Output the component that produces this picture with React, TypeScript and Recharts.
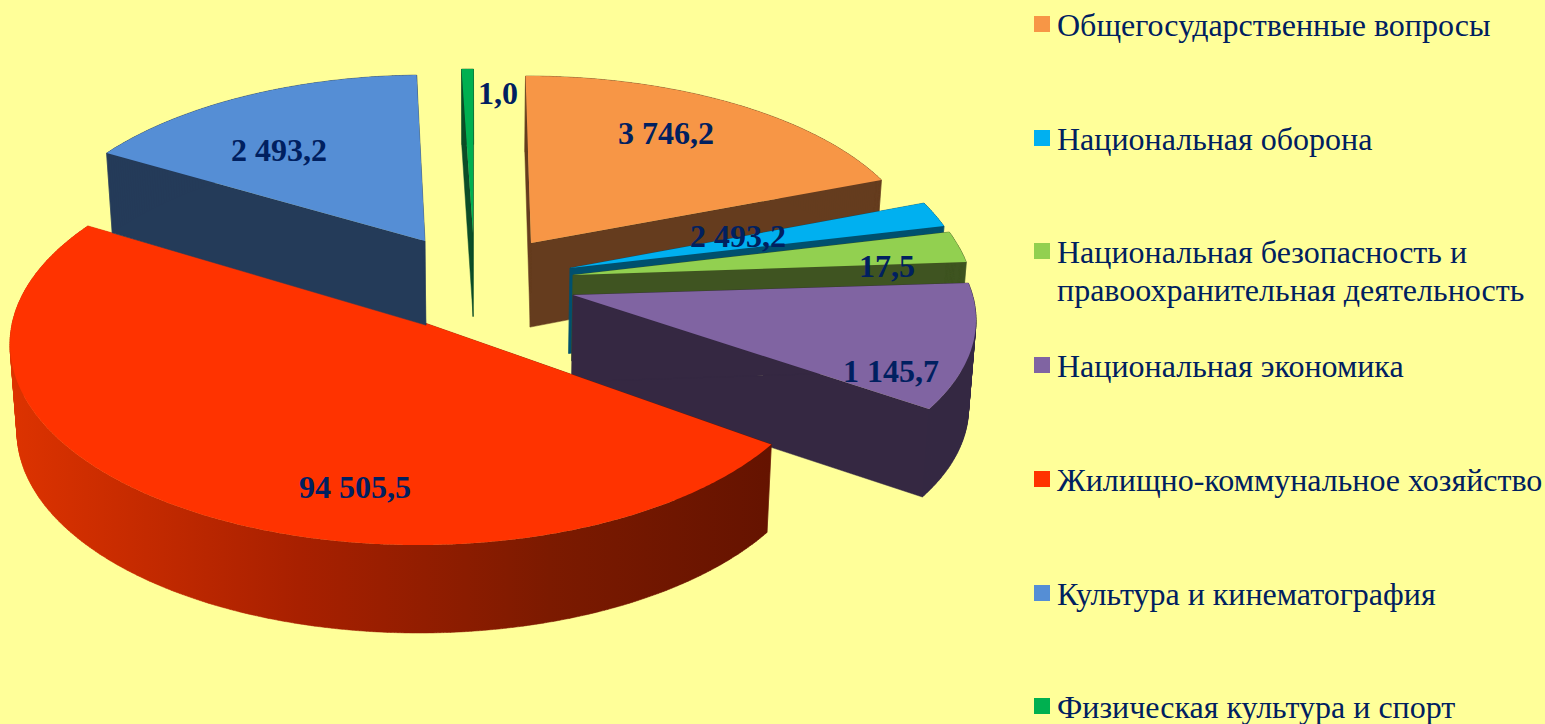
import { PieChart, Pie, Legend } from "recharts";

const categories = [
    "Общегосударственные вопросы",
    "Национальная оборона",
    "Национальная безопасность и правоохранительная деятельность",
    "Национальная экономика",
    "Жилищно-коммунальное хозяйство",
    "Культура и кинематография",
    "Физическая культура и спорт",
];
// размер секторов на картинке (в градусах), подписи на слайде им не пропорциональны
const sliceShares = [64, 6, 8, 42, 186, 52.5, 1.5];
const valueLabels = ["3 746,2", "2 493,2", "17,5", "1 145,7", "94 505,5", "2 493,2", "1,0"];
const topColors = ["#f79646", "#00b0f0", "#92d050", "#8064a2", "#ff3300", "#558ed5", "#00b050"];
const wallColors = ["#653c1e", "#00506e", "#3f5421", "#352842", "url(#redWall)", "#243b59", "#0b4d27"];

// выносы секторов и перспектива: центр эллипса, радиусы, вершина сектора
const frames = [
    { ex: 525.5, ey: 261, rx: 396, ry: 185, ax: 531, ay: 243 },
    { ex: 484.5, ey: 307.8, rx: 489, ry: 239, ax: 570, ay: 268 },
    { ex: 533, ey: 308.6, rx: 443, ry: 224, ax: 573, ay: 275 },
    { ex: 626, ey: 320, rx: 350, ry: 178, ax: 573, ay: 295 },
    { ex: 418, ey: 344, rx: 408, ry: 201, ax: 425, ay: 323 },
    { ex: 427, ey: 264.5, rx: 396, ry: 189.5, ax: 425, ay: 241 },
    { ex: 473.5, ey: 249, rx: 460, ry: 180, ax: 473, ay: 233 },
];
const labelSpots = [
    { x: 666, y: 133 },
    { x: 738, y: 236 },
    { x: 887, y: 266 },
    { x: 891, y: 371 },
    { x: 355, y: 487 },
    { x: 279, y: 150 },
    { x: 498, y: 93 },
];

const chartData = categories.map((name, i) => ({ name, value: sliceShares[i], fill: topColors[i] }));

const BG = "#ffff99";
const TEXT = "#002060";
const FONT = "'Liberation Serif', 'Times New Roman', serif";
const RAD = Math.PI / 180;

type Pt = { x: number; y: number };

const toPath = (pts: Pt[]) => "M" + pts.map((p) => `${p.x.toFixed(1)},${p.y.toFixed(1)}`).join("L") + "Z";

// нижняя кромка: чуть сжата к точке схода, у дальних точек высота меньше
const dropDown = (p: Pt): Pt => ({
    x: 480 + (p.x - 480) * 0.985,
    y: p.y + Math.min(88, 72 + p.y * 0.05),
});

// стенка над отрезком a-b, все четырёхугольники одной ориентации, иначе на изгибе будет вырез
const wallQuad = (a: Pt, b: Pt) => {
    const quad = [a, b, dropDown(b), dropDown(a)];
    let area = 0;
    quad.forEach((p, k) => {
        const q = quad[(k + 1) % 4];
        area += p.x * q.y - q.x * p.y;
    });
    return toPath(area < 0 ? quad.reverse() : quad);
};

const Slice3D = (props: any) => {
    const i = categories.indexOf(props.name);
    const f = frames[i];
    const onArc = (deg: number): Pt => ({
        x: f.ex + f.rx * Math.cos(deg * RAD),
        y: f.ey - f.ry * Math.sin(deg * RAD),
    });
    const arc: Pt[] = [];
    const steps = Math.max(4, Math.ceil(Math.abs(props.startAngle - props.endAngle) * 2));
    for (let s = 0; s <= steps; s++) {
        arc.push(onArc(props.startAngle + ((props.endAngle - props.startAngle) * s) / steps));
    }
    const apex = { x: f.ax, y: f.ay };
    let walls = wallQuad(apex, arc[0]) + wallQuad(apex, arc[arc.length - 1]);
    for (let s = 0; s < arc.length - 1; s++) {
        walls += wallQuad(arc[s], arc[s + 1]);
    }
    return (
        <g>
            <defs>
                <linearGradient id="redWall" gradientUnits="userSpaceOnUse" x1="10" y1="0" x2="770" y2="0">
                    <stop offset="0" stopColor="#dd3300" />
                    <stop offset="0.38" stopColor="#a82000" />
                    <stop offset="0.71" stopColor="#7c1a00" />
                    <stop offset="1" stopColor="#651300" />
                </linearGradient>
            </defs>
            <path d={walls} fill={wallColors[i]} stroke={wallColors[i]} strokeWidth={0.5} />
            <path d={toPath([apex, ...arc])} fill={topColors[i]} />
        </g>
    );
};

const renderValueLabel = (props: any) => {
    const i = categories.indexOf(props.name);
    return (
        <text
            x={labelSpots[i].x}
            y={labelSpots[i].y}
            textAnchor="middle"
            dominantBaseline="central"
            fontFamily={FONT}
            fontWeight="bold"
            fontSize={32}
            fill={TEXT}
        >
            {valueLabels[i]}
        </text>
    );
};

const renderLegend = (props: any) => (
    <div style={{ position: "relative", width: 1545, height: 724 }}>
        {props.payload.map((item: any, i: number) => (
            <div key={item.value} style={{ position: "absolute", left: 1034, top: 6 + i * 113.7, width: 511 }}>
                <span style={{ position: "absolute", left: 0, top: 10, width: 16, height: 16, background: item.color }} />
                <div style={{ marginLeft: 23, fontFamily: FONT, fontSize: 32, lineHeight: "38px", color: TEXT }}>
                    {item.value}
                </div>
            </div>
        ))}
    </div>
);

export default function App() {
    return (
        <div style={{ position: "absolute", left: 0, top: 0, width: 1545, height: 724, background: BG, overflow: "hidden" }}>
            <PieChart width={1545} height={724} margin={{ top: 0, right: 0, bottom: 0, left: 0 }}>
                <Pie
                    data={chartData}
                    dataKey="value"
                    nameKey="name"
                    cx={470}
                    cy={340}
                    outerRadius={400}
                    startAngle={90}
                    endAngle={-270}
                    stroke="none"
                    shape={Slice3D}
                    label={renderValueLabel}
                    labelLine={false}
                    isAnimationActive={false}
                />
                <Legend
                    content={renderLegend}
                    itemSorter={null}
                    layout="vertical"
                    align="right"
                    verticalAlign="top"
                    wrapperStyle={{ position: "absolute", left: 0, top: 0, width: 1545, height: 724 }}
                />
            </PieChart>
        </div>
    );
}
